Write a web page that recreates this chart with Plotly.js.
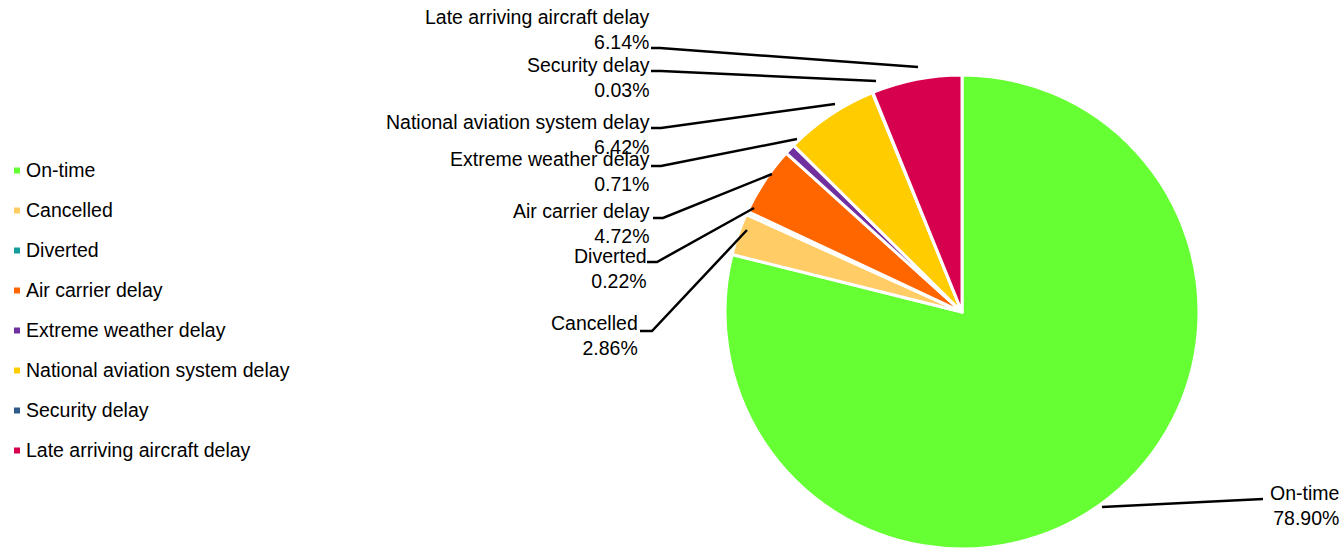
<!DOCTYPE html>
<html>
<head>
<meta charset="utf-8">
<script src="https://cdn.plot.ly/plotly-3.0.1.min.js"></script>
<style>
  html, body { margin: 0; padding: 0; background: #ffffff; }
  #chart { width: 1344px; height: 557px; }
</style>
</head>
<body>
<div id="chart"></div>
<script>
// ---- data ----
const categories = [
  'On-time',
  'Cancelled',
  'Diverted',
  'Air carrier delay',
  'Extreme weather delay',
  'National aviation system delay',
  'Security delay',
  'Late arriving aircraft delay'
];
const shares = [78.90, 2.86, 0.22, 4.72, 0.71, 6.42, 0.03, 6.14];
const sliceColors = ['#66FF33', '#FFCC66', '#169C9C', '#FF6600', '#7030A0', '#FFCC00', '#2F5A8A', '#D6004E'];

// ---- layout helpers (pixel -> paper) ----
const W = 1344, H = 557;
const px = x => x / W;
const py = y => 1 - y / H;

// label placement (pixels): text anchor x, block centre y, leader path points
const labelPlacement = [
  { x: 1339, y: 505.5, path: [[1263, 499], [1102, 507]] },
  { x: 638, y: 335.5, path: [[640, 331], [652, 331], [747, 230]] },
  { x: 647, y: 268.5, path: [[647, 262], [657, 262], [754, 208]] },
  { x: 650, y: 223, path: [[653, 218], [663, 218], [772, 174]] },
  { x: 650, y: 171, path: [[651, 166], [661, 166], [797, 139]] },
  { x: 650, y: 134.5, path: [[651, 128], [661, 128], [835, 104]] },
  { x: 650, y: 77.5, path: [[651, 71], [661, 71], [876, 81]] },
  { x: 650, y: 29.5, path: [[651, 48], [660, 48], [918, 67]] }
];

const font = { family: '"Liberation Sans", Arial, sans-serif', size: 19.5, color: '#000000' };

const annotations = [];
const shapes = [];

categories.forEach((c, i) => {
  const p = labelPlacement[i];
  annotations.push({
    xref: 'paper', yref: 'paper',
    x: px(p.x), y: py(p.y),
    xanchor: 'right', yanchor: 'middle', align: 'right',
    text: c + '<br>' + shares[i].toFixed(2) + '%',
    showarrow: false, font: font, borderpad: 0, borderwidth: 0
  });
  const d = p.path.map((pt, k) => (k === 0 ? 'M ' : 'L ') + px(pt[0]) + ' ' + py(pt[1])).join(' ');
  shapes.push({
    type: 'path', xref: 'paper', yref: 'paper', path: d,
    line: { color: '#000000', width: 2.5 }
  });
});

// custom legend (text + square swatches)
categories.forEach((c, i) => {
  const yc = 170 + i * 40;
  annotations.push({
    xref: 'paper', yref: 'paper',
    x: px(26), y: py(yc),
    xanchor: 'left', yanchor: 'middle', align: 'left',
    text: c, showarrow: false, font: font, borderpad: 0, borderwidth: 0
  });
  shapes.push({
    type: 'rect', xref: 'paper', yref: 'paper',
    x0: px(14), x1: px(20), y0: py(yc + 3.5), y1: py(yc - 2.5),
    fillcolor: sliceColors[i], line: { width: 0 }
  });
});

// pie centre (962,312), radius ~237 px
const cx = 962, cy = 312, r = 237;

const trace = {
  type: 'pie',
  labels: categories,
  values: shares,
  sort: false,
  direction: 'clockwise',
  rotation: 0,
  textinfo: 'none',
  hoverinfo: 'label+percent',
  showlegend: false,
  marker: { colors: sliceColors, line: { color: '#ffffff', width: 3 } },
  domain: { x: [px(cx - r), px(cx + r)], y: [py(cy + r), py(cy - r)] }
};

const layout = {
  width: W, height: H,
  margin: { l: 0, r: 0, t: 0, b: 0 },
  paper_bgcolor: '#ffffff',
  plot_bgcolor: '#ffffff',
  showlegend: false,
  font: font,
  annotations: annotations,
  shapes: shapes
};

Plotly.newPlot('chart', [trace], layout, { displayModeBar: false, staticPlot: true });
</script>
</body>
</html>
